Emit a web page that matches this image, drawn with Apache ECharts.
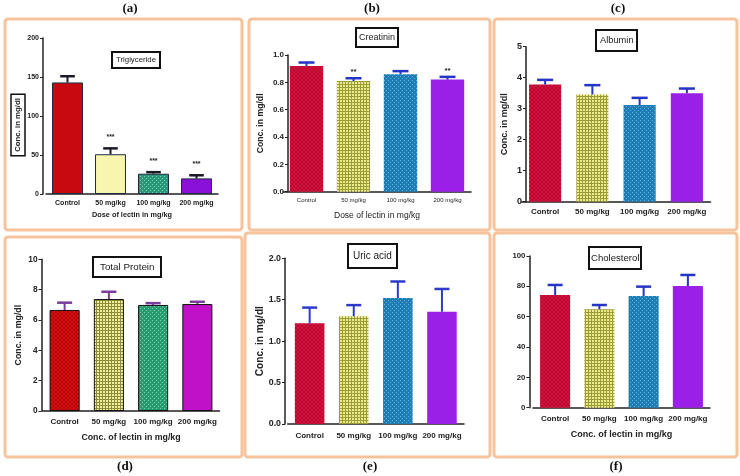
<!DOCTYPE html>
<html>
<head>
<meta charset="utf-8">
<script src="https://cdn.jsdelivr.net/npm/echarts@6/dist/echarts.min.js"></script>
<style>html,body{margin:0;padding:0;background:#fff}#c{width:740px;height:476px}</style>
</head>
<body>
<div id="c"></div>
<script>
// ---------- DATA ----------
const categories = ['Control', '50 mg/kg', '100 mg/kg', '200 mg/kg'];

const triglycerideMean = [143, 51, 26, 20];
const triglycerideErr = [8, 7.5, 2, 4];
const triglycerideStars = ['', '***', '***', '***'];

const creatininMean = [0.92, 0.81, 0.86, 0.82];
const creatininErr = [0.025, 0.02, 0.022, 0.02];
const creatininStars = ['', '**', '', '**'];

const albuminMean = [3.78, 3.46, 3.12, 3.5];
const albuminErr = [0.15, 0.3, 0.23, 0.15];
const albuminStars = ['', '', '', ''];

const totalProteinMean = [6.66, 7.38, 6.99, 7.05];
const totalProteinErr = [0.48, 0.48, 0.12, 0.15];
const totalProteinStars = ['', '', '', ''];

const uricAcidMean = [1.215, 1.30, 1.52, 1.355];
const uricAcidErr = [0.19, 0.135, 0.2, 0.275];
const uricAcidStars = ['', '', '', ''];

const cholesterolMean = [74.3, 64.9, 73.6, 80.2];
const cholesterolErr = [6.6, 2.8, 6.2, 7.3];
const cholesterolStars = ['', '', '', ''];

// ---------- STYLE HELPERS ----------
const FONT = "'Liberation Sans Narrow','Arial Narrow','Liberation Sans',Arial,sans-serif";

function pattern(base, draw, size) {
  const cv = document.createElement('canvas');
  cv.width = size; cv.height = size;
  const g = cv.getContext('2d');
  g.fillStyle = base; g.fillRect(0, 0, size, size);
  draw(g, size);
  return { image: cv, repeat: 'repeat' };
}
const redHatch = (base, line) => pattern(base, (g, s) => {
  g.strokeStyle = line; g.lineWidth = 1;
  g.beginPath(); g.moveTo(0, s); g.lineTo(s, 0); g.stroke();
  g.beginPath(); g.moveTo(0, 0); g.lineTo(s, s); g.stroke();
}, 4);
const gridPat = (base, line) => pattern(base, (g, s) => {
  g.fillStyle = line; g.fillRect(0, 0, s, 1); g.fillRect(0, 0, 1, s);
}, 3);
const dotPat = (base, dot) => pattern(base, (g, s) => {
  g.fillStyle = dot; g.fillRect(0, 0, 1, 1); g.fillRect(2, 2, 1, 1);
}, 4);

const std = () => [redHatch('#d3143e', '#b80832'), gridPat('#eaea90', '#9c9c34'), dotPat('#1f7db4', '#5cb2dc'), '#9a20e8'];
const pal = {
  a: ['#c80a10', '#f8f6ae', dotPat('#2a9878', '#7ad0b4'), '#8a12d8'],
  b: std(), c: std(),
  d: [redHatch('#d41010', '#b40808'), gridPat('#f0f09a', '#8c8c3a'), dotPat('#2a9a70', '#70d0a8'), '#c010c8'],
  e: std(), f: std()
};

// panel layout
const panels = [
  { id: 'a', mean: triglycerideMean, err: triglycerideErr, stars: triglycerideStars,
    grid: { left: 46, top: 38, width: 172, height: 156 }, yoff: 3, max: 200, interval: 50, dec: 0,
    yName: '',
    xName: 'Dose of lectin in mg/kg', xNameGap: 17, xNameSize: 7.3, xNameBold: true,
    xLabSize: 7, yLabSize: 7, xLabMargin: 6, barW: '72%', errColor: '#1a1a24', border: '#1c2a44',
    title: 'Triglyceride', tLeft: 112, tTop: 52, tSize: 7.8, tPad: [4, 4], starGap: 8, starSize: 7 },
  { id: 'b', mean: creatininMean, err: creatininErr, stars: creatininStars,
    grid: { left: 283, top: 55, width: 188, height: 136.7 }, yoff: -5, max: 1, interval: 0.2, dec: 1,
    yName: 'Conc. in mg/dl', yNameGap: 23, yNameSize: 8.7, yNameBox: false,
    xName: 'Dose of lectin in mg/kg', xNameGap: 19, xNameSize: 8.5, xNameBold: false,
    xLabSize: 6, yLabSize: 8, xLabMargin: 6, barW: '71%', errColor: '#2434c4', border: null,
    title: 'Creatinin', tLeft: 356, tTop: 28, tSize: 9, tPad: [5, 3] , starGap: 2, starSize: 8 },
  { id: 'c', mean: albuminMean, err: albuminErr, stars: albuminStars,
    grid: { left: 521.5, top: 46.7, width: 189, height: 155 }, yoff: -4.5, max: 5, interval: 1, dec: 0,
    yName: 'Conc. in mg/dl', yNameGap: 17, yNameSize: 9, yNameBox: false,
    xName: '', xLabSize: 8, yLabSize: 9, xLabMargin: 6, barW: '68%', errColor: '#2434c4', border: null,
    title: 'Albumin', tLeft: 596, tTop: 30, tSize: 9.3, tPad: [6, 4] },
  { id: 'd', mean: totalProteinMean, err: totalProteinErr, stars: totalProteinStars,
    grid: { left: 42.5, top: 259.3, width: 177, height: 151.7 }, yoff: 1, max: 10, interval: 2, dec: 0,
    yName: 'Conc. in mg/dl', yNameGap: 18, yNameSize: 8.8, yNameBox: false,
    xName: 'Conc. of lectin in mg/kg', xNameGap: 22, xNameSize: 8.8, xNameBold: true,
    xLabSize: 8, yLabSize: 8.3, xLabMargin: 7, barW: '68%', errColor: '#7a3c9c', border: '#111',
    title: 'Total Protein', tLeft: 93, tTop: 257, tSize: 9.8, tPad: [5, 7] },
  { id: 'e', mean: uricAcidMean, err: uricAcidErr, stars: uricAcidStars,
    grid: { left: 287.6, top: 258.3, width: 176.4, height: 165.7 }, yoff: 2.6, max: 2, interval: 0.5, dec: 1,
    yName: 'Conc. in mg/dl', yNameGap: 20, yNameSize: 10.2, yNameBox: false,
    xName: '', xLabSize: 8, yLabSize: 8.8, xLabMargin: 8, barW: '67%', errColor: '#2c3cc8', border: null,
    title: 'Uric acid', tLeft: 348, tTop: 244, tSize: 10, tPad: [7, 5] },
  { id: 'f', mean: cholesterolMean, err: cholesterolErr, stars: cholesterolStars,
    grid: { left: 533, top: 256, width: 177, height: 151.7 }, yoff: 3.6, max: 100, interval: 20, dec: 0,
    yName: '', xName: 'Conc. of lectin in mg/kg', xNameGap: 22, xNameSize: 9, xNameBold: true,
    xLabSize: 8, yLabSize: 7.8, xLabMargin: 7, barW: '68%', errColor: '#2434c4', border: null,
    title: 'Cholesterol', tLeft: 589, tTop: 247, tSize: 9.6, tPad: [6, 2] }
];

const frames = [
  [5, 19, 237, 211], [249, 19, 241, 211], [494, 19, 243, 211],
  [5, 237, 237, 220], [245, 233, 245, 224], [494, 233, 243, 224]
];
const panelTags = [['(a)', 130, 9], ['(b)', 372, 9], ['(c)', 618, 9], ['(d)', 125, 467], ['(e)', 370, 467], ['(f)', 616, 467]];

const option = { animation: false, backgroundColor: '#fff', grid: [], xAxis: [], yAxis: [], series: [], title: [], graphic: [] };

frames.forEach(f => option.graphic.push({
  type: 'rect', shape: { x: f[0], y: f[1], width: f[2], height: f[3], r: 3 },
  style: { fill: 'none', stroke: '#f6c39c', lineWidth: 3 }, z: -1
}));
panelTags.forEach(t => option.graphic.push({
  type: 'text', x: t[1], y: t[2], style: { text: t[0], font: "bold 13px 'Liberation Serif',serif", fill: '#111', textAlign: 'center', textVerticalAlign: 'middle' }
}));
// boxed y-axis title of panel (a)
option.graphic.push({
  type: 'text', x: 18, y: 125, rotation: Math.PI / 2,
  style: { text: 'Conc. in mg/dl', font: 'bold 7.8px ' + FONT, fill: '#222', textAlign: 'center', textVerticalAlign: 'middle',
    borderColor: '#111', borderWidth: 1.5, padding: [3, 4] }
});

panels.forEach((p, k) => {
  option.grid.push(Object.assign({ containLabel: false }, p.grid));
  option.xAxis.push({
    type: 'category', gridIndex: k, data: categories,
    axisLine: { lineStyle: { color: '#222', width: 1.5 } },
    axisTick: { alignWithLabel: true, length: 3, lineStyle: { color: '#222' } },
    axisLabel: { fontSize: p.xLabSize, fontWeight: p.id === 'b' ? 'normal' : 'bold', fontFamily: FONT, color: '#222', margin: p.xLabMargin, interval: 0 },
    name: p.xName, nameLocation: 'middle', nameGap: p.xNameGap || 0,
    nameTextStyle: { fontSize: p.xNameSize, fontWeight: p.xNameBold ? 'bold' : 'normal', fontFamily: FONT, color: '#222' }
  });
  option.yAxis.push({
    type: 'value', gridIndex: k, min: 0, max: p.max, interval: p.interval, offset: p.yoff,
    splitLine: { show: false },
    axisLine: { show: true, lineStyle: { color: '#222', width: 1.5 } },
    axisTick: { show: true, length: 3, lineStyle: { color: '#222' } },
    axisLabel: { fontSize: p.yLabSize, fontWeight: 'bold', fontFamily: FONT, color: '#222', margin: 4,
      formatter: v => v.toFixed(p.dec) },
    name: p.yName, nameLocation: 'middle', nameGap: p.yNameGap || 0,
    nameTextStyle: { fontSize: p.yNameSize || 9, fontWeight: 'bold', fontFamily: FONT, color: '#222' }
  });
  option.series.push({
    type: 'bar', xAxisIndex: k, yAxisIndex: k, barWidth: p.barW,
    data: p.mean.map((v, i) => ({ value: v, itemStyle: {
      color: pal[p.id][i],
      borderColor: p.border || 'transparent', borderWidth: p.border ? 1 : 0 } }))
  });
  const stars = p.stars;
  option.series.push({
    type: 'custom', xAxisIndex: k, yAxisIndex: k, z: 5,
    data: p.mean.map((v, i) => [i, v, p.err[i]]),
    encode: { x: 0, y: [1, 2] },
    renderItem: (params, api) => {
      const i = api.value(0), m = api.value(1), e = api.value(2);
      const b = api.coord([i, m]);
      const t = api.coord([i, m + e]);
      const half = api.size([1, 0])[0] * 0.17;
      const ls = { stroke: p.errColor, lineWidth: 2 };
      const ch = [
        { type: 'line', shape: { x1: b[0], y1: b[1], x2: t[0], y2: t[1] }, style: ls },
        { type: 'line', shape: { x1: t[0] - half, y1: t[1], x2: t[0] + half, y2: t[1] }, style: Object.assign({}, ls, { lineWidth: 2.5 }) }
      ];
      const s = stars[params.dataIndex];
      if (s) ch.push({ type: 'text', x: t[0], y: t[1] - (p.starGap || 4),
        style: { text: s, font: 'bold ' + (p.starSize || 8) + 'px ' + FONT, fill: '#222', textAlign: 'center', textVerticalAlign: 'bottom' } });
      return { type: 'group', children: ch };
    }
  });
  option.title.push({
    text: p.title, left: p.tLeft, top: p.tTop, padding: p.tPad,
    borderColor: '#111', borderWidth: 2,
    textStyle: { fontSize: p.tSize, fontWeight: 'normal', fontFamily: FONT, color: '#222' }
  });
});

const chart = echarts.init(document.getElementById('c'), null, { renderer: 'canvas' });
chart.setOption(option);
</script>
</body>
</html>
